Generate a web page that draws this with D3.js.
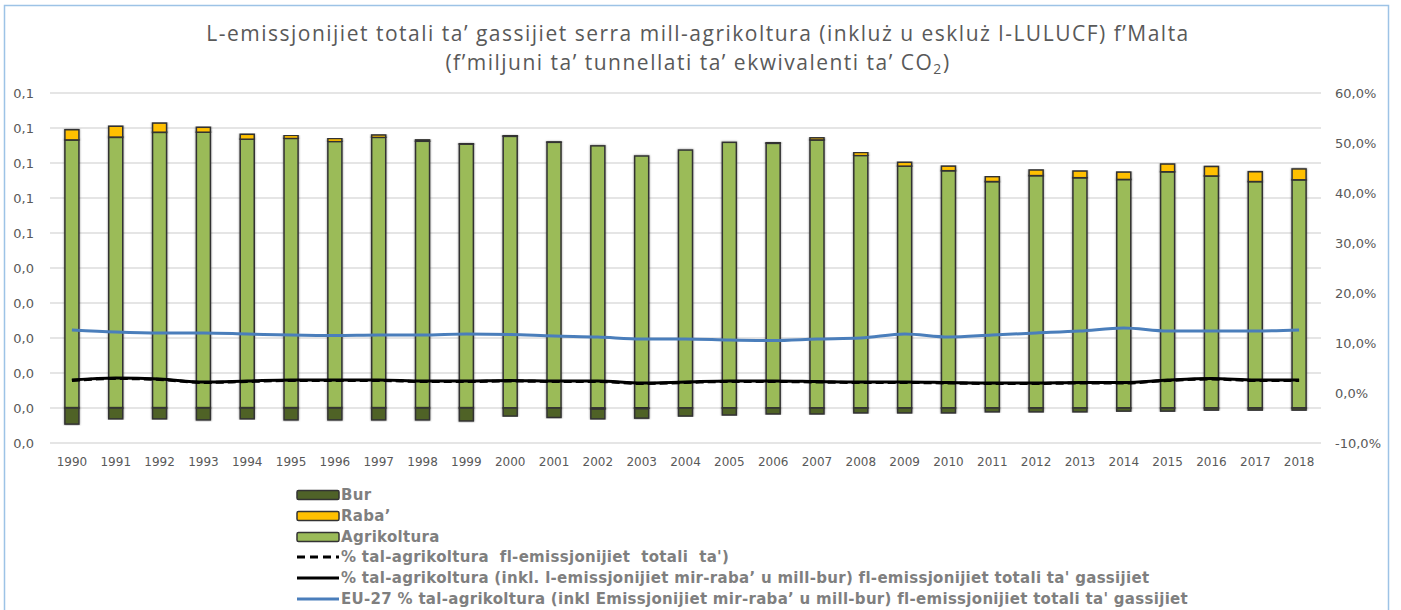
<!DOCTYPE html>
<html lang="mt">
<head>
<meta charset="utf-8">
<title>Emissjonijiet mill-agrikoltura - Malta</title>
<script src="https://d3js.org/d3.v7.min.js"></script>
<style>
body { margin: 0; background: #fff; }
.axis-label { font-family: "DejaVu Sans", Verdana, sans-serif; font-size: 13px; fill: #595959; }
.year-label { font-family: "DejaVu Sans", Verdana, sans-serif; font-size: 12px; fill: #595959; }
.title { font-family: "Open Sans", sans-serif; font-size: 21px; fill: #595959; letter-spacing: 1.5px; }
.legend-text { font-family: "DejaVu Sans", Verdana, sans-serif; font-size: 15px; font-weight: bold; fill: #7f7f7f; white-space: pre; letter-spacing: 0.3px; }
</style>
</head>
<body>
<svg width="1401" height="610"></svg>
<script>

// years on the x axis
var years = [1990, 1991, 1992, 1993, 1994, 1995, 1996, 1997, 1998, 1999,
             2000, 2001, 2002, 2003, 2004, 2005, 2006, 2007, 2008, 2009,
             2010, 2011, 2012, 2013, 2014, 2015, 2016, 2017, 2018];

// Mt CO2 eq
var agrikoltura = [0.0766, 0.0774, 0.0788, 0.0788, 0.0768, 0.0770, 0.0761, 0.0773, 0.0762, 0.0754,
                   0.0776, 0.0759, 0.0749, 0.0720, 0.0737, 0.0759, 0.0756, 0.0766, 0.0721, 0.0691,
                   0.0678, 0.0647, 0.0664, 0.0658, 0.0653, 0.0675, 0.0663, 0.0647, 0.0652];
var raba = [0.0029, 0.0031, 0.0026, 0.0014, 0.0014, 0.0009, 0.0009, 0.0007, 0.0004, 0.0001,
            0.0003, 0.0001, -0.0003, -0.0002, 0.0000, 0.0000, 0.0003, 0.0006, 0.0009, 0.0011,
            0.0013, 0.0014, 0.0016, 0.0019, 0.0021, 0.0022, 0.0027, 0.0028, 0.0031];
var bur = [-0.0046, -0.0031, -0.0031, -0.0034, -0.0031, -0.0034, -0.0034, -0.0034, -0.0034, -0.0037,
           -0.0023, -0.0027, -0.0028, -0.0027, -0.0023, -0.0020, -0.0017, -0.0017, -0.0014, -0.0014,
           -0.0014, -0.0011, -0.0011, -0.0011, -0.0009, -0.0009, -0.0006, -0.0006, -0.0006];

// shares (right axis)
var pctEskluz = [0.025, 0.029, 0.027, 0.021, 0.023, 0.025, 0.025, 0.025, 0.023, 0.023,
                 0.024, 0.023, 0.023, 0.019, 0.021, 0.023, 0.023, 0.022, 0.021, 0.021,
                 0.020, 0.019, 0.019, 0.020, 0.020, 0.025, 0.028, 0.025, 0.025];
var pctInkluz = [0.026, 0.030, 0.028, 0.022, 0.024, 0.026, 0.026, 0.026, 0.024, 0.024,
                 0.025, 0.024, 0.024, 0.020, 0.022, 0.024, 0.024, 0.023, 0.022, 0.022,
                 0.021, 0.020, 0.020, 0.021, 0.021, 0.026, 0.029, 0.026, 0.026];
var pctEU27 = [0.126, 0.122, 0.120, 0.120, 0.118, 0.116, 0.115, 0.116, 0.116, 0.118,
               0.117, 0.114, 0.112, 0.108, 0.108, 0.106, 0.105, 0.108, 0.110, 0.118,
               0.112, 0.116, 0.120, 0.124, 0.130, 0.124, 0.124, 0.124, 0.126];

var leftTicks = [-0.01, 0, 0.01, 0.02, 0.03, 0.04, 0.05, 0.06, 0.07, 0.08, 0.09];
var leftTickLabels = ["0,0", "0,0", "0,0", "0,0", "0,0", "0,0", "0,1", "0,1", "0,1", "0,1", "0,1"];
var rightTicks = [-0.1, 0, 0.1, 0.2, 0.3, 0.4, 0.5, 0.6];
var rightTickLabels = ["-10,0%", "0,0%", "10,0%", "20,0%", "30,0%", "40,0%", "50,0%", "60,0%"];

var legendLabels = ["Bur", "Raba\u2019", "Agrikoltura",
  "% tal-agrikoltura  fl-emissjonijiet  totali  ta')",
  "% tal-agrikoltura (inkl. l-emissjonijiet mir-raba\u2019 u mill-bur) fl-emissjonijiet totali ta' gassijiet",
  "EU-27 % tal-agrikoltura (inkl Emissjonijiet mir-raba\u2019 u mill-bur) fl-emissjonijiet totali ta' gassijiet"];

var colors = { agri: "#9bbb59", raba: "#ffc000", bur: "#4f6228" };

var svg = d3.select("svg");

// frame
svg.append("rect")
    .attr("x", 4.5).attr("y", 5.5)
    .attr("width", 1384).attr("height", 620)
    .attr("fill", "none")
    .attr("stroke", "#9dc3e6")
    .attr("stroke-width", 1.5);

var defs = svg.append("defs");
defs.append("filter").attr("id", "glow")
    .attr("x", "-30%").attr("y", "-10%").attr("width", "160%").attr("height", "120%")
  .append("feDropShadow")
    .attr("dx", 0).attr("dy", 0).attr("stdDeviation", 1)
    .attr("flood-color", "#000").attr("flood-opacity", 0.45);

// title
svg.append("text").attr("class", "title")
    .attr("x", 698).attr("y", 41).attr("text-anchor", "middle")
    .text("L-emissjonijiet totali ta\u2019 gassijiet serra mill-agrikoltura (inklu\u017c u esklu\u017c l-LULUCF) f\u2019Malta");
var t2 = svg.append("text").attr("class", "title")
    .attr("x", 698).attr("y", 70).attr("text-anchor", "middle");
t2.append("tspan").text("(f\u2019miljuni ta\u2019 tunnellati ta\u2019 ekwivalenti ta\u2019 CO");
t2.append("tspan").attr("font-size", 14).attr("dy", 4).text("2");
t2.append("tspan").attr("dy", -4).text(")");

// scales
var x = d3.scaleBand()
    .domain(years)
    .range([50, 1321])
    .paddingInner(0.68)
    .paddingOuter(0.34);

var y = d3.scaleLinear().domain([-0.01, 0.09]).range([443, 93]);
var y2 = d3.scaleLinear().domain([-0.1, 0.6]).range([443, 93]);

// gridlines
svg.append("g")
  .selectAll("line")
  .data(leftTicks)
  .enter().append("line")
    .attr("x1", 50).attr("x2", 1321)
    .attr("y1", function(d) { return y(d); })
    .attr("y2", function(d) { return y(d); })
    .attr("stroke", "#dcdcdc")
    .attr("stroke-width", 1.5);

// left axis
var leftAxis = svg.append("g")
    .attr("transform", "translate(34,0)")
    .call(d3.axisLeft(y).tickValues(leftTicks).tickSize(0).tickPadding(0)
      .tickFormat(function(d, i) { return leftTickLabels[i]; }));
leftAxis.select(".domain").remove();
leftAxis.selectAll("text").attr("class", "axis-label").attr("font-size", null).attr("font-family", null);

// right axis
var rightAxis = svg.append("g")
    .attr("transform", "translate(1335,0)")
    .call(d3.axisRight(y2).tickValues(rightTicks).tickSize(0).tickPadding(0)
      .tickFormat(function(d, i) { return rightTickLabels[i]; }));
rightAxis.select(".domain").remove();
rightAxis.selectAll("text").attr("class", "axis-label").attr("font-size", null).attr("font-family", null);

// bottom axis
var bottomAxis = svg.append("g")
    .attr("transform", "translate(0,457)")
    .call(d3.axisBottom(x).tickSize(0).tickPadding(0));
bottomAxis.select(".domain").remove();
bottomAxis.selectAll("text").attr("class", "year-label").attr("font-size", null).attr("font-family", null)
    .attr("dy", "0.71em");

// stacked bars
var table = years.map(function(yr, i) {
  return { year: yr, agri: agrikoltura[i], raba: raba[i], bur: bur[i] };
});
var keys = ["agri", "raba", "bur"];
var series = d3.stack().keys(keys).offset(d3.stackOffsetDiverging)(table);

svg.append("g")
  .selectAll("g")
  .data(series)
  .enter().append("g")
    .attr("fill", function(d) { return colors[d.key]; })
  .selectAll("rect")
  .data(function(d) { return d.filter(function(p) { return p[1] !== p[0]; }); })
  .enter().append("rect")
    .attr("x", function(d) { return x(d.data.year); })
    .attr("width", x.bandwidth())
    .attr("y", function(d) { return y(Math.max(d[0], d[1])); })
    .attr("height", function(d) { return Math.abs(y(d[0]) - y(d[1])); })
    .attr("stroke", "#333")
    .attr("stroke-width", 1.5)
    .attr("filter", "url(#glow)");

// lines
var line = function(vals) {
  return d3.line()
    .x(function(d, i) { return x(years[i]) + x.bandwidth() / 2; })
    .y(function(d) { return y2(d); })
    .curve(d3.curveMonotoneX)(vals);
};

svg.append("path").attr("d", line(pctEU27))
    .attr("fill", "none").attr("stroke", "#4a7ebb").attr("stroke-width", 3);
svg.append("path").attr("d", line(pctEskluz))
    .attr("fill", "none").attr("stroke", "#000").attr("stroke-width", 3)
    .attr("stroke-dasharray", "8,4");
svg.append("path").attr("d", line(pctInkluz))
    .attr("fill", "none").attr("stroke", "#000").attr("stroke-width", 3);

// legend
var legendRows = [
  { type: "rect", color: colors.bur },
  { type: "rect", color: colors.raba },
  { type: "rect", color: colors.agri },
  { type: "dash", color: "#000" },
  { type: "line", color: "#000" },
  { type: "line", color: "#4a7ebb" }
];
var legendY = [495, 516, 537, 557, 578, 599];

var lg = svg.append("g");
legendRows.forEach(function(r, i) {
  var cy = legendY[i];
  if (r.type === "rect") {
    lg.append("rect")
      .attr("x", 297).attr("y", cy - 4.5)
      .attr("width", 42).attr("height", 9)
      .attr("rx", 1.5)
      .attr("fill", r.color).attr("stroke", "#333").attr("stroke-width", 1.5);
  } else {
    lg.append("line")
      .attr("x1", 297).attr("x2", 339)
      .attr("y1", cy).attr("y2", cy)
      .attr("stroke", r.color).attr("stroke-width", 3)
      .attr("stroke-dasharray", r.type === "dash" ? "8,5" : null);
  }
  lg.append("text").attr("class", "legend-text")
    .attr("x", 341).attr("y", cy).attr("dy", "0.35em")
    .text(legendLabels[i]);
});

</script>
</body>
</html>
